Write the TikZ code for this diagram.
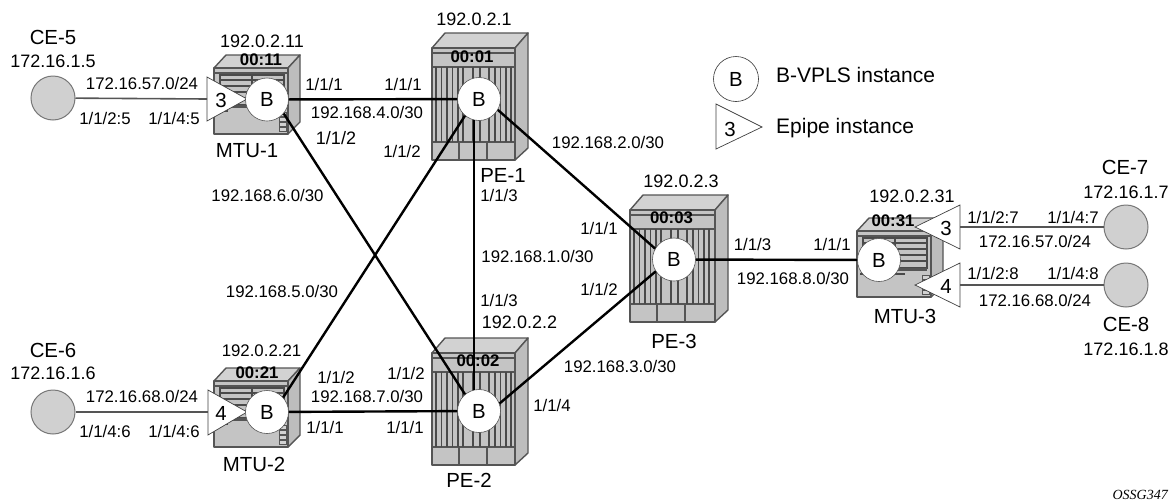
\documentclass[tikz,border=0pt]{standalone}
\usepackage{fontspec}
\setmainfont{Liberation Sans}
\newfontfamily\serifital{Liberation Serif}
\definecolor{bodyg}{HTML}{C4C4C4}
\definecolor{topg}{HTML}{D2D2D2}
\definecolor{sideg}{HTML}{BDBDBD}
\definecolor{edgeg}{HTML}{555555}
\definecolor{slotg}{HTML}{4A4A4A}
\definecolor{ceg}{HTML}{D0D0D0}
\newcommand{\smltxt}{\fontsize{16.8}{18}\selectfont}
\newcommand{\midtxt}{\fontsize{18}{20}\selectfont}
\newcommand{\bigtxt}{\fontsize{20.4}{22}\selectfont}
\newcommand{\legtxt}{\fontsize{21}{23}\selectfont}
\tikzset{
  x=1pt,y=-1pt,
  lab/.style={inner sep=0pt,font=\smltxt,text=black},
  midlab/.style={inner sep=0pt,font=\midtxt,text=black},
  biglab/.style={inner sep=0pt,font=\bigtxt,text=black},
  leglab/.style={inner sep=0pt,font=\legtxt,text=black,anchor=west},
  boldlab/.style={inner sep=0pt,font=\smltxt\bfseries,text=black},
  binst/.style={circle,draw=edgeg,line width=0.6pt,fill=white,minimum size=43pt,inner sep=0pt,font=\bigtxt},
  ce/.style={circle,draw=edgeg!80,line width=1pt,fill=ceg,minimum size=44pt,inner sep=0pt},
  bvlink/.style={line width=2.4pt,black},
  celink/.style={line width=1.6pt,edgeg},
  tri/.style={draw=black!75,line width=0.7pt,fill=white,line join=miter},
  chs/.style={draw=edgeg,line width=1.4pt,line join=round},
}
% large chassis: #1 = left of front, #2 = top of the back edge, #3 = front width
\newcommand{\pechassis}[3]{%
  \begin{scope}[shift={(#1,#2)}]
    \path[chs,fill=topg] (0,15) -- (13,0) -- (#3+13,0) -- (#3,15) -- cycle;
    \path[chs,fill=sideg] (#3,15) -- (#3+13,0) -- (#3+13,115) -- (#3,127) -- cycle;
    \path[chs,fill=bodyg] (0,15) rectangle (#3,127);
    \draw[edgeg,line width=1.2pt] (0,20) -- (#3,20);
    \draw[edgeg,line width=1.2pt] (0,34) -- (#3,34);
    \draw[edgeg,line width=1.2pt] (0,109) -- (#3,109);
    \foreach \sx in {4,9.5,15,20.5,26,31,41,48,57,63,68.5,74,79}
      \draw[slotg,line width=1.1pt] (\sx,34) -- (\sx,109);
    \draw[edgeg,line width=1.2pt] (27,109) -- (27,127);
    \draw[edgeg,line width=1.2pt] (55,109) -- (55,127);
  \end{scope}}
% small chassis: #1 = left of front, #2 = top of the back edge
\newcommand{\mtubox}[2]{%
  \begin{scope}[shift={(#1,#2)}]
    \path[chs,fill=topg] (0,13) -- (12,0) -- (86,0) -- (74,13) -- cycle;
    \path[chs,fill=sideg] (74,13) -- (86,0) -- (86,67) -- (74,79) -- cycle;
    \path[chs,fill=bodyg] (0,13) rectangle (74,79);
    \draw[edgeg,line width=1.4pt] (0,18) -- (74,18);
    \path[draw=slotg,line width=1.2pt,fill=bodyg] (6,20) rectangle (70,50);
    \foreach \sy in {25,31,37,43} \draw[slotg,line width=1.2pt] (6,\sy) -- (70,\sy);
    \draw[slotg,line width=1.2pt] (38,20) -- (38,50);
    \fill[edgeg] (3,50) rectangle (70,53);
    \fill[slotg] (3,55) rectangle (14,57);
    \fill[slotg] (38,55) rectangle (48,57);
    \foreach \sy in {57,62,67,72} \draw[edgeg,fill=topg,line width=0.6pt] (65,\sy) rectangle (72,\sy+4);
  \end{scope}}
\begin{document}
\begin{tikzpicture}
\useasboundingbox (0,0) rectangle (1174,501);
% chassis
\mtubox{214}{55}
\mtubox{214}{368}
\mtubox{857}{218}
\pechassis{432}{33}{83}
\pechassis{432}{338}{83}
\pechassis{630}{195}{85}
% Epipe instances
\coordinate (ep1) at (207,99);
\coordinate (ep2) at (208,412);
\coordinate (ep3) at (960,227);
\coordinate (ep4) at (960,285);
\draw[tri] (207,77) -- (207,121) -- (247,99) -- cycle;
\draw[tri] (208,390) -- (208,435) -- (247,412) -- cycle;
\draw[tri] (960,205) -- (960,249) -- (915,227) -- cycle;
\draw[tri] (960,263) -- (960,307) -- (915,285) -- cycle;
\node[biglab] (ep1n) at (221,100) {3};
\node[biglab] (ep2n) at (221,413) {4};
\node[biglab] (ep3n) at (946,228) {3};
\node[biglab] (ep4n) at (946,286) {4};
% B-VPLS instances
\node[binst] (mtu1b) at (267,99.5) {B};
\node[binst] (mtu2b) at (267,412) {B};
\node[binst] (mtu3b) at (879,260) {B};
\node[binst] (pe1b) at (479,99) {B};
\node[binst] (pe2b) at (479,411) {B};
\node[binst] (pe3b) at (674,259.5) {B};
% CE sites
\node[ce] (ce5) at (53,98) {};
\node[ce] (ce6) at (53,412) {};
\node[ce] (ce7) at (1126,227) {};
\node[ce] (ce8) at (1126,285) {};
% links
\draw[celink] (ce5) -- (ep1);
\draw[celink] (ce6) -- (ep2);
\draw[celink] (ce7) -- (ep3);
\draw[celink] (ce8) -- (ep4);
\draw[bvlink] (mtu1b) -- (pe1b);
\draw[bvlink] (mtu2b) -- (pe2b);
\draw[bvlink] (mtu1b.-40) -- (pe2b.130);
\draw[bvlink] (mtu2b.42) -- (pe1b.-130);
\draw[bvlink] (pe1b.-103) -- (pe2b.103);
\draw[bvlink] (pe1b.-30) -- (pe3b.150);
\draw[bvlink] (pe2b.20) -- (pe3b.-147);
\draw[bvlink] (pe3b) -- (mtu3b);
% system labels
\node[biglab] (l1) at (53,37) {CE-5};
\node[midlab] (l2) at (53,61) {172.16.1.5};
\node[biglab] (l3) at (53,350) {CE-6};
\node[midlab] (l4) at (53,373) {172.16.1.6};
\node[biglab] (l5) at (1125,167) {CE-7};
\node[midlab] (l6) at (1126,192) {172.16.1.7};
\node[biglab] (l7) at (1126,324) {CE-8};
\node[midlab] (l8) at (1126,349) {172.16.1.8};
\node[biglab] (l9) at (247,151) {MTU-1};
\node[biglab] (l10) at (254,464) {MTU-2};
\node[biglab] (l11) at (905,316) {MTU-3};
\node[biglab] (l12) at (503,175) {PE-1};
\node[biglab] (l13) at (469,480) {PE-2};
\node[biglab] (l14) at (674,341) {PE-3};
\node[midlab] (a1) at (262,41) {192.0.2.11};
\node[lab] (a2) at (261.5,351) {192.0.2.21};
\node[midlab] (a3) at (912,196) {192.0.2.31};
\node[midlab] (a4) at (474,19) {192.0.2.1};
\node[midlab] (a5) at (519.5,322) {192.0.2.2};
\node[midlab] (a6) at (681,181) {192.0.2.3};
\node[boldlab] (m1) at (261,60) {00:11};
\node[boldlab] (m2) at (257,373) {00:21};
\node[boldlab] (m3) at (893,221) {00:31};
\node[boldlab] (m4) at (472,57) {00:01};
\node[boldlab] (m5) at (478,361) {00:02};
\node[boldlab] (m6) at (671.5,218) {00:03};
% port and subnet labels
\node[lab] (p1) at (142,83) {172.16.57.0/24};
\node[lab] (p2) at (105,118) {1/1/2:5};
\node[lab] (p3) at (174,118) {1/1/4:5};
\node[lab] (p4) at (142,396) {172.16.68.0/24};
\node[lab] (p5) at (105,431) {1/1/4:6};
\node[lab] (p6) at (174,431) {1/1/4:6};
\node[lab] (p7) at (324,84) {1/1/1};
\node[lab] (p8) at (403,84) {1/1/1};
\node[lab] (p9) at (367,112) {192.168.4.0/30};
\node[midlab] (p10) at (336,138) {1/1/2};
\node[lab] (p11) at (402,151) {1/1/2};
\node[lab] (p12) at (267.5,195) {192.168.6.0/30};
\node[lab] (p13) at (282,291) {192.168.5.0/30};
\node[lab] (p14) at (499,195) {1/1/3};
\node[lab] (p15) at (537.5,256) {192.168.1.0/30};
\node[lab] (p16) at (499,300) {1/1/3};
\node[lab] (p17) at (608,142) {192.168.2.0/30};
\node[lab] (p18) at (620,366) {192.168.3.0/30};
\node[lab] (p19) at (599,228) {1/1/1};
\node[lab] (p20) at (599,289) {1/1/2};
\node[lab] (p21) at (752.5,244) {1/1/3};
\node[lab] (p22) at (832,244) {1/1/1};
\node[lab] (p23) at (793,278) {192.168.8.0/30};
\node[lab] (p24) at (336,377) {1/1/2};
\node[lab] (p25) at (367,396) {192.168.7.0/30};
\node[lab] (p26) at (325,427) {1/1/1};
\node[lab] (p27) at (406,373) {1/1/2};
\node[lab] (p28) at (405,427) {1/1/1};
\node[lab] (p29) at (552,405) {1/1/4};
\node[lab] (p30) at (993,217) {1/1/2:7};
\node[lab] (p31) at (1073,217) {1/1/4:7};
\node[lab] (p32) at (1035,241) {172.16.57.0/24};
\node[lab] (p33) at (993,273) {1/1/2:8};
\node[lab] (p34) at (1073,273) {1/1/4:8};
\node[lab] (p35) at (1035,300) {172.16.68.0/24};
% legend
\node[binst,draw=black!80,minimum size=45pt] (lgb) at (736,79) {B};
\draw[tri] (716,104) -- (716,149) -- (762,127) -- cycle;
\node[biglab] (lg3) at (730,129) {3};
\node[leglab] (lg1) at (776,75) {B-VPLS instance};
\node[leglab] (lg2) at (776,128) {Epipe instance};
\node[inner sep=0pt,anchor=east,font=\serifital\itshape\fontsize{14}{15}\selectfont] (oss) at (1168,495) {OSSG347};
\end{tikzpicture}
\end{document}
